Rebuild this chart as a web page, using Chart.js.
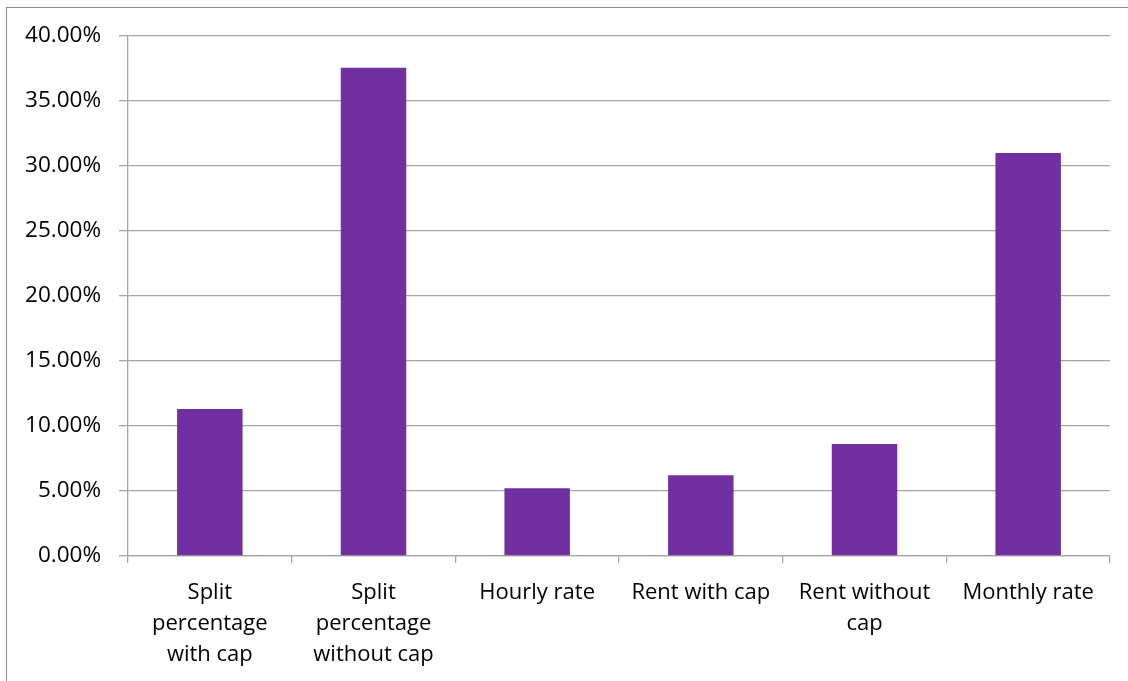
<!DOCTYPE html>
<html>
<head>
<meta charset="utf-8">
<script src="https://cdn.jsdelivr.net/npm/chart.js@4/dist/chart.umd.min.js"></script>
<style>
  html, body { margin: 0; padding: 0; background: #fff; }
  #wrap { position: relative; width: 1128px; height: 681px; overflow: hidden; }
  #frame { position: absolute; left: 6px; top: 7px; width: 1200px; height: 800px; border: 1.5px solid #8c8c8c; box-sizing: border-box; }
  canvas { position: absolute; left: 0; top: 0; }
</style>
</head>
<body>
<div id="wrap">
  <div id="frame"></div>
  <canvas id="chart" width="1128" height="681"></canvas>
</div>
<script>
// categories (multi-line, as wrapped in the picture)
const categories = [
  ["Split", "percentage", "with cap"],
  ["Split", "percentage", "without cap"],
  "Hourly rate",
  "Rent with cap",
  ["Rent without", "cap"],
  "Monthly rate"
];
// share of respondents, in percent
const shares = [11.3, 37.55, 5.22, 6.22, 8.62, 31.0];
const yTicks = [0, 5, 10, 15, 20, 25, 30, 35, 40];

const ctx = document.getElementById("chart").getContext("2d");
Chart.defaults.font.family = "'Open Sans', sans-serif";
Chart.defaults.color = "#000";

let chart = new Chart(ctx, {
  type: "bar",
  data: {
    labels: categories,
    datasets: [{
      data: shares,
      backgroundColor: "#7030a0",
      categoryPercentage: 1,
      barPercentage: 0.4,
    }],
  },
  options: {
    responsive: false,
    animation: false,
    layout: { padding: { top: 36, right: 18, left: 0, bottom: 0 } },
    plugins: { legend: { display: false }, tooltip: { enabled: false } },
    scales: {
      x: {
        grid: { offset: true, drawOnChartArea: false, tickLength: 7, color: "#a6a6a6", lineWidth: 1.3 },
        border: { color: "#a6a6a6", width: 1.3 },
        ticks: { font: { size: 22, lineHeight: 1.42 }, padding: 14, maxRotation: 0, autoSkip: false },
        afterFit: (s) => { s.height = 125; },
      },
      y: {
        min: 0,
        max: 40,
        afterBuildTicks: (s) => { s.ticks = yTicks.map(v => ({ value: v })); },
        grid: { tickLength: 9, color: "#a6a6a6", lineWidth: 1.3 },
        border: { color: "#a6a6a6", width: 1.3 },
        ticks: { font: { size: 22.5 }, padding: 18, callback: (v) => v.toFixed(2) + "%" },
        afterFit: (s) => { s.width = 128; },
      },
    },
  },
});
</script>
</body>
</html>
